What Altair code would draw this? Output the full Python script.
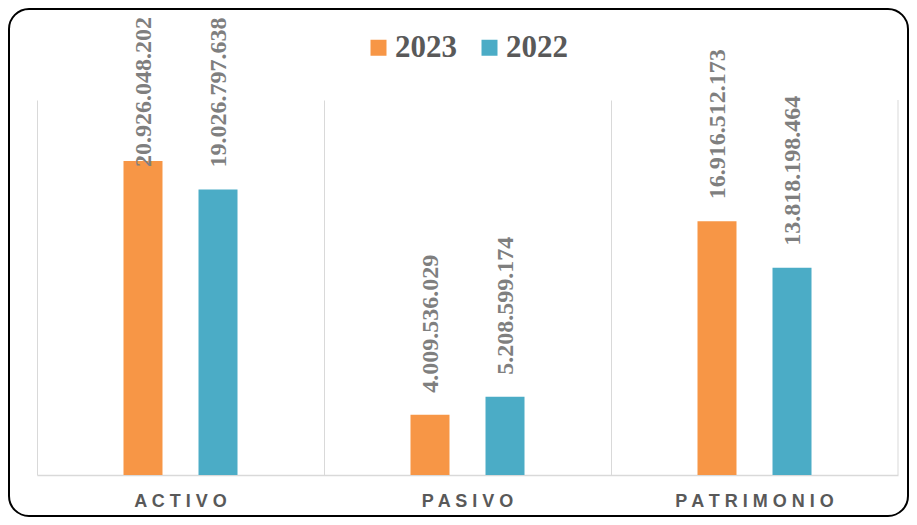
import altair as alt
import pandas as pd

categories = ["ACTIVO", "PASIVO", "PATRIMONIO"]
years = ["2023", "2022"]
values_2023 = [20926048202, 4009536029, 16916512173]
values_2022 = [19026797638, 5208599174, 13818198464]
colors = ["#F79646", "#4BACC6"]

rows = []
for c, a, b in zip(categories, values_2023, values_2022):
    rows.append({"cat": c, "year": "2023", "value": a})
    rows.append({"cat": c, "year": "2022", "value": b})
df = pd.DataFrame(rows)

x_axis = alt.Axis(title=None, ticks=False, domain=True, domainColor="#d9d9d9", domainWidth=1.5,
                  grid=True, gridColor="#d9d9d9", gridWidth=1, bandPosition=0,
                  labelAngle=0, labelFont="Liberation Sans", labelFontSize=18,
                  labelFontWeight="bold", labelColor="#595959", labelPadding=17,
                  labelBaseline="top",
                  labelExpr="join(split(datum.label, ''), ' ')")


def x_enc(**kw):
    return alt.X("cat:N", sort=categories, scale=alt.Scale(paddingInner=0, paddingOuter=0),
                 axis=x_axis, **kw)


xo = alt.XOffset("year:N", sort=years, scale=alt.Scale(paddingInner=0, paddingOuter=0.913))
y_scale = alt.Scale(domain=[0, 25e9])

base = alt.Chart(df)

bars = base.mark_bar(width=39).encode(
    x=x_enc(),
    xOffset=xo,
    y=alt.Y("value:Q", scale=y_scale, axis=None),
    color=alt.Color("year:N", sort=years, scale=alt.Scale(domain=years, range=colors),
                    legend=alt.Legend(title=None, orient="none", direction="horizontal",
                                      legendX=326, legendY=-68,
                                      symbolType="square", symbolSize=256, symbolStrokeWidth=0,
                                      labelFont="Liberation Serif", labelFontSize=31,
                                      labelFontWeight="bold", labelColor="#595959",
                                      labelOffset=1, columnPadding=17)),
)

labels = base.transform_calculate(
    label="join(split(format(datum.value, ','), ','), '.')",
    pos="min(datum.value, 19.07e9)",
).mark_text(angle=270, align="left", baseline="alphabetic", dx=22, dy=8,
            font="Liberation Serif", fontSize=24, fontWeight="bold", color="#7f7f7f").encode(
    x=x_enc(),
    xOffset=xo,
    y=alt.Y("pos:Q", scale=y_scale, axis=None),
    text="label:N",
)

edge = alt.Chart(pd.DataFrame({"cat": categories[-1:]})).mark_rule(color="#d9d9d9", strokeWidth=1).encode(
    x=x_enc(bandPosition=1),
)

border = alt.Chart(pd.DataFrame({"d": [0]})).mark_rect(
    fill=None, stroke="black", strokeWidth=2, cornerRadius=20).encode(
    x=alt.value(-28), x2=alt.value(871), y=alt.value(-91), y2=alt.value(416))

chart = alt.layer(border, bars, edge, labels).properties(
    width=861, height=375, autosize="none",
    padding={"left": 29, "top": 92, "right": 11, "bottom": 42},
).configure_view(stroke=None)

chart.save("out.html", embed_options={"renderer": "svg", "actions": False})
